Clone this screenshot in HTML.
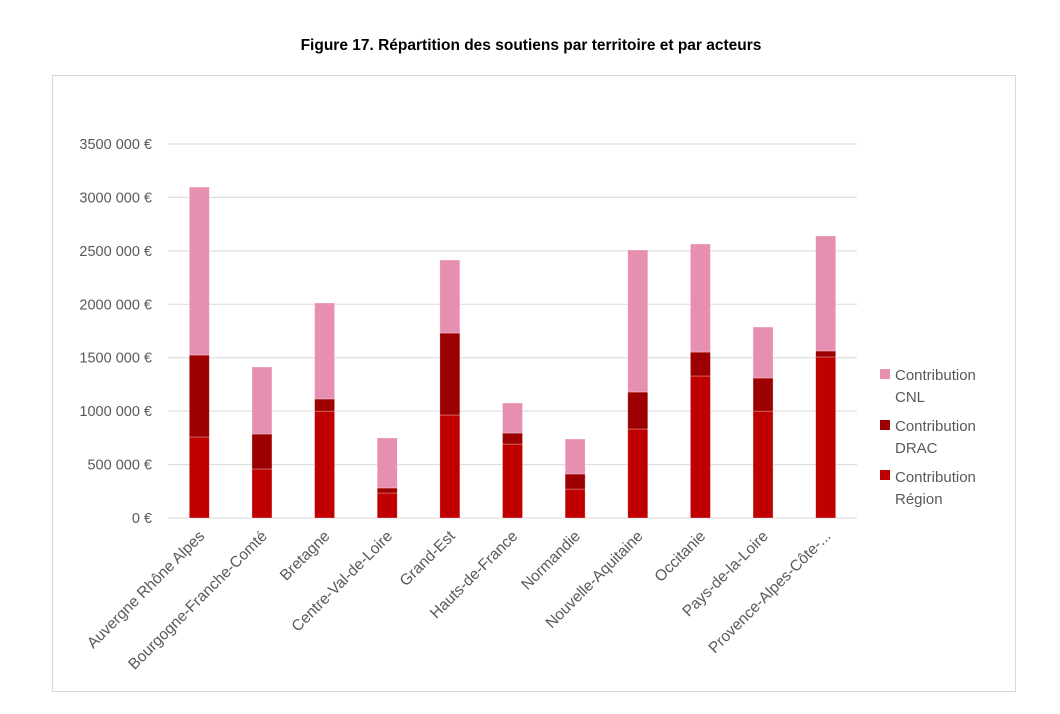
<!DOCTYPE html>
<html><head><meta charset="utf-8"><style>
body{margin:0;background:#fff;width:1060px;height:709px;overflow:hidden;font-family:"Liberation Sans",sans-serif}
</style></head><body>
<svg width="1060" height="709">
<text x="531" y="50" text-anchor="middle" font-weight="bold" font-size="15.5" fill="#000">Figure 17. Répartition des soutiens par territoire et par acteurs</text>
<rect x="52.5" y="75.5" width="963" height="616" fill="none" stroke="#d9d9d9"/>
<g id="grid"></g><g id="bars"></g><g id="xl"></g>
<g font-size="15" fill="#595959">
<rect x="880" y="369" width="10" height="10" fill="#e68fb0"/>
<text x="895" y="380">Contribution</text><text x="895" y="402">CNL</text>
<rect x="880" y="420" width="10" height="10" fill="#9c0000"/>
<text x="895" y="431">Contribution</text><text x="895" y="453">DRAC</text>
<rect x="880" y="470" width="10" height="10" fill="#c00000"/>
<text x="895" y="482">Contribution</text><text x="895" y="504">Région</text>
</g>
</svg>
<script>
const categories=["Auvergne Rhône Alpes","Bourgogne-Franche-Comté","Bretagne","Centre-Val-de-Loire","Grand-Est","Hauts-de-France","Normandie","Nouvelle-Aquitaine","Occitanie","Pays-de-la-Loire","Provence-Alpes-Côte-..."];
const region=[758000,459000,1000000,234000,964000,692000,271000,833000,1329000,1000000,1507000];
const drac=[767000,327000,114000,47000,767000,103000,141000,346000,224000,310000,56000];
const cnl=[1572000,627000,898000,468000,683000,281000,327000,1329000,1011000,477000,1076000];
const ticks=[0,500000,1000000,1500000,2000000,2500000,3000000,3500000];
const tickLabels=["0 €","500 000 €","1000 000 €","1500 000 €","2000 000 €","2500 000 €","3000 000 €","3500 000 €"];
const NS="http://www.w3.org/2000/svg";
const x0=168,x1=857,y0=518,yTop=144,maxV=3500000;
const y=v=>y0-(v/maxV)*(y0-yTop);
const bw=(x1-x0)/categories.length;
const xc=i=>x0+bw*(i+0.5);
function mk(t,a,p){const e=document.createElementNS(NS,t);for(const k in a)e.setAttribute(k,a[k]);p.appendChild(e);return e;}
const g=document.getElementById('grid');
ticks.forEach((t,i)=>{
 const l=mk('line',{x1:x0,x2:x1,y1:y(t),y2:y(t),stroke:'#d9d9d9','stroke-width':1},g);
 
 
 const tx=mk('text',{x:152,y:y(t)+5,'text-anchor':'end','font-size':14.5,fill:'#595959'},g);
 tx.textContent=tickLabels[i];
 
 
});
const b=document.getElementById('bars');
const series=[[region,'#c00000','region'],[drac,'#9c0000','drac'],[cnl,'#e68fb0','cnl']];
categories.forEach((c,i)=>{
 let acc=0;
 series.forEach(([arr,col,nm])=>{
  const v=arr[i];
  const r=mk('rect',{x:xc(i)-10,y:y(acc+v),width:20,height:y(acc)-y(acc+v),fill:col,stroke:'#fff','stroke-opacity':0.4,'stroke-width':0.7},b);
  
  
  acc+=v;
 });
 const t=mk('text',{x:xc(i)+6,y:537,'text-anchor':'end','font-size':15.5,fill:'#595959',transform:`rotate(-45 ${xc(i)+6} 537)`},document.getElementById('xl'));
 t.textContent=c;
 
 
});
</script>
</body></html>
